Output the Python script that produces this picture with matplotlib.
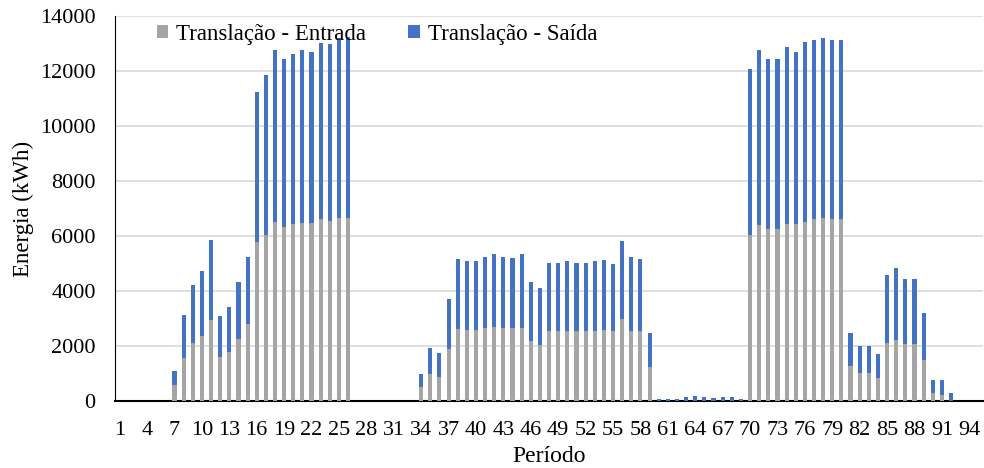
"""
Energia por período - translação (entrada / saída), barras empilhadas.
"""

import numpy as np
import matplotlib.pyplot as plt

# Períodos 1..95
periodos = np.arange(1, 96)

# Translação - Entrada (kWh)
entrada = [
    0, 0, 0, 0, 0, 0,
    570, 1565, 2110, 2355, 2960, 1615, 1785, 2255, 2800, 5775,
    6030, 6515, 6335, 6430, 6480, 6480, 6600, 6550, 6640, 6640,
    0, 0, 0, 0, 0, 0, 0,
    500, 970, 875, 1880, 2620, 2575, 2575, 2655, 2695, 2655,
    2655, 2655, 2175, 2055, 2535, 2535, 2535, 2535, 2535, 2535,
    2585, 2535, 2975, 2535, 2535, 1235,
    0, 0, 0, 0, 0, 0, 0, 0, 0, 0,
    6030, 6395, 6250, 6250, 6430, 6430, 6515, 6600, 6640, 6600,
    6600, 1260, 1010, 1010, 825, 2100, 2210, 2065, 2065, 1480,
    280, 205, 0,
    0, 0, 0,
]

total = [
    0, 0, 0, 0, 0, 0,
    1090, 3130, 4210, 4730, 5860, 3085, 3435, 4345, 5255, 11235,
    11845, 12755, 12450, 12630, 12755, 12705, 13020, 12975, 13190, 13230,
    0, 0, 0, 0, 0, 0, 0,
    995, 1920, 1735, 3725, 5160, 5075, 5075, 5240, 5330, 5240,
    5195, 5330, 4330, 4115, 5025, 5025, 5075, 5025, 5025, 5075,
    5110, 5000, 5815, 5240, 5160, 2465,
    90, 65, 65, 135, 170, 135, 110, 135, 135, 65,
    12060, 12755, 12450, 12450, 12875, 12705, 13055, 13140, 13190, 13140,
    13140, 2475, 1990, 1990, 1700, 4600, 4820, 4430, 4430, 3215,
    755, 755, 305,
    0, 0, 0,
]
# Translação - Saída (kWh)
saida = [t - e for t, e in zip(total, entrada)]

cor_entrada = '#A5A5A5'
cor_saida = '#4472C4'

plt.rcParams['font.family'] = ['Liberation Serif', 'DejaVu Serif']

fig, ax = plt.subplots(figsize=(9.84, 4.68), dpi=100)
fig.subplots_adjust(left=0.117, right=0.999, top=0.966, bottom=0.143)

ax.bar(periodos, entrada, width=0.45, color=cor_entrada,
       label='Translação - Entrada', zorder=3)
ax.bar(periodos, saida, width=0.45, bottom=entrada, color=cor_saida,
       label='Translação - Saída', zorder=3)

ax.set_xlim(0.5, 95.5)
ax.set_ylim(0, 14000)
ax.set_yticks(np.arange(0, 14001, 2000))
ax.set_xticks(periodos[::3])
ax.set_xticklabels([str(p) for p in periodos[::3]])
ax.tick_params(axis='both', length=0, labelsize=16)
ax.tick_params(axis='x', pad=14)
ax.tick_params(axis='y', pad=14)

ax.grid(axis='y', color='#D9D9D9', linewidth=1.2, zorder=0)
ax.set_axisbelow(True)
for lado in ['top', 'right']:
    ax.spines[lado].set_visible(False)
ax.spines['left'].set_color('black')
ax.spines['bottom'].set_color('black')
ax.spines['bottom'].set_linewidth(1.5)

ax.set_xlabel('Período', fontsize=17)
ax.set_ylabel('Energia (kWh)', fontsize=16.5)
ax.xaxis.set_label_coords(0.5, -0.117)
ax.yaxis.set_label_coords(-0.093, 0.5)

ax.legend(loc='upper left', bbox_to_anchor=(0.024, 1.033), ncol=2,
          frameon=False, fontsize=16.5, handlelength=0.5, handleheight=0.5,
          handletextpad=0.35, columnspacing=1.85)

plt.savefig('out.png', dpi=100)
plt.close()
